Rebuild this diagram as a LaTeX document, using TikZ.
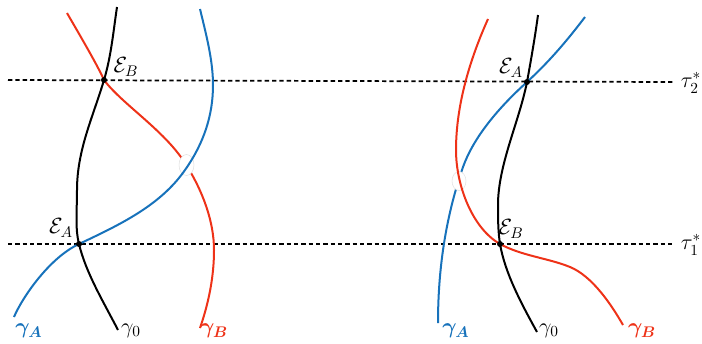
\documentclass[tikz,border=0pt]{standalone}
\usepackage{fix-cm}
\usepackage{amsmath}
\usepackage{bm}
\definecolor{cblue}{RGB}{23,114,187}
\definecolor{cred}{RGB}{238,50,24}
\tikzset{
  curve/.style={line width=1.5pt},
  level/.style={line width=1.3pt, dash pattern=on 3.3pt off 2.2pt},
  event/.style={circle, fill=black, inner sep=0pt, minimum size=4.5pt},
  gapmask/.style={fill=white, draw=black!12, line width=0.4pt},
  lbl/.style={font=\fontsize{16.5}{19}\selectfont, inner sep=0pt},
}
\begin{document}
\begin{tikzpicture}[x=0.75pt, y=-0.75pt]
\useasboundingbox (0,0) rectangle (702,343);
% levels
\draw[level] (8,80) -- (673,82);
\draw[level] (8,244) -- (673,244);
\node[lbl] (t2) at (691,83) {$\tau_2^*$};
\node[lbl] (t1) at (691,245) {$\tau_1^*$};

% ---------- left panel ----------
\draw[cred, curve] (67,13) .. controls (75,27) and (97,64) .. (104,80)
  .. controls (122,104) and (164,130) .. (185,163)
  .. controls (203,191) and (214,222) .. (214,250)
  .. controls (214,276) and (209,302) .. (200,328);
\draw[gapmask] (186.5,165) ellipse [x radius=7.5, y radius=10.5];
\draw[cblue, curve] (200,9) .. controls (206,34) and (213,60) .. (213,85)
  .. controls (213,115) and (204,143) .. (185,170)
  .. controls (160,206) and (119,225) .. (79,244)
  .. controls (49,258) and (22,298) .. (14,317);
\draw[black, curve] (117,7) .. controls (113.4,31) and (111.2,56) .. (104,80)
  .. controls (93,117) and (77,150) .. (77,190)
  .. controls (77,211) and (75,228) .. (79,244)
  .. controls (86,273) and (103,301) .. (118,330);
\node[event] (LEB) at (104,80) {};
\node[event] (LEA) at (79,244) {};
\node[lbl] (LEBl) at (126,67) {$\mathcal{E}_B$};
\node[lbl] (LEAl) at (61,228) {$\mathcal{E}_A$};
\node[lbl, text=cblue] (LgA) at (29,331) {$\bm{\gamma_A}$};
\node[lbl] (Lg0) at (131,331) {$\gamma_0$};
\node[lbl, text=cred] (LgB) at (214,331) {$\bm{\gamma_B}$};

% ---------- right panel ----------
\draw[cblue, curve] (585,17) .. controls (569,38) and (551,60) .. (527,82)
  .. controls (496,110) and (473,139) .. (463,167)
  .. controls (445,219) and (438,271) .. (438,323);
\draw[gapmask] (459,181) ellipse [x radius=7, y radius=9.5];
\draw[cred, curve] (488,19) .. controls (470,59) and (456,105) .. (456,150)
  .. controls (456,185) and (472,228) .. (500,244)
  .. controls (522,256) and (548,258) .. (570,267)
  .. controls (592,276) and (611,304) .. (623,325);
\draw[black, curve] (538,15) .. controls (535,37) and (531,60) .. (527,82)
  .. controls (519,122) and (498,165) .. (498,205)
  .. controls (498,218) and (498,231) .. (500,244)
  .. controls (505,273) and (521,303) .. (537,332);
\node[event] (REA) at (527,82) {};
\node[event] (REB) at (500,244) {};
\node[lbl] (REAl) at (511,68) {$\mathcal{E}_A$};
\node[lbl] (REBl) at (511,229) {$\mathcal{E}_B$};
\node[lbl, text=cblue] (RgA) at (456,331) {$\bm{\gamma_A}$};
\node[lbl] (Rg0) at (549,331) {$\gamma_0$};
\node[lbl, text=cred] (RgB) at (642,331) {$\bm{\gamma_B}$};
\end{tikzpicture}
\end{document}
